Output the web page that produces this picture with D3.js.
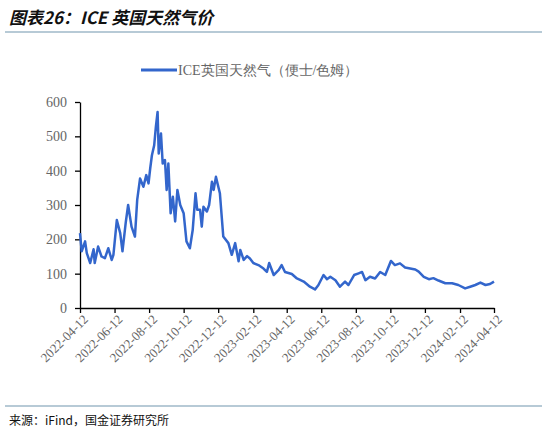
<!DOCTYPE html>
<html><head><meta charset="utf-8">
<script src="https://cdn.jsdelivr.net/npm/d3@7"></script>
<style>body{margin:0;background:#fff}</style>
</head><body>
<svg id="chart" width="542" height="435"></svg>
<script>
// pence/therm
const dates = ["2022-04-12","2022-04-15","2022-04-21","2022-04-24","2022-04-30","2022-05-06","2022-05-08","2022-05-14","2022-05-20","2022-05-26","2022-06-01","2022-06-07","2022-06-10","2022-06-16","2022-06-22","2022-06-26","2022-07-02","2022-07-06","2022-07-12","2022-07-18","2022-07-22","2022-07-27","2022-08-02","2022-08-07","2022-08-11","2022-08-14","2022-08-17","2022-08-21","2022-08-24","2022-08-27","2022-08-29","2022-09-02","2022-09-05","2022-09-09","2022-09-12","2022-09-15","2022-09-19","2022-09-23","2022-09-27","2022-10-01","2022-10-06","2022-10-12","2022-10-17","2022-10-23","2022-10-28","2022-11-02","2022-11-05","2022-11-10","2022-11-13","2022-11-16","2022-11-22","2022-11-26","2022-12-01","2022-12-04","2022-12-08","2022-12-15","2022-12-21","2022-12-30","2023-01-05","2023-01-11","2023-01-17","2023-01-20","2023-01-26","2023-02-01","2023-02-06","2023-02-12","2023-02-21","2023-03-02","2023-03-08","2023-03-12","2023-03-20","2023-03-29","2023-04-03","2023-04-09","2023-04-21","2023-04-30","2023-05-12","2023-05-23","2023-06-01","2023-06-07","2023-06-16","2023-06-22","2023-06-28","2023-07-07","2023-07-15","2023-07-24","2023-07-30","2023-08-09","2023-08-17","2023-08-23","2023-08-29","2023-09-06","2023-09-15","2023-09-24","2023-10-03","2023-10-13","2023-10-20","2023-10-29","2023-11-07","2023-11-16","2023-11-25","2023-12-01","2023-12-10","2023-12-19","2023-12-27","2024-01-05","2024-01-17","2024-01-29","2024-02-09","2024-02-21","2024-03-01","2024-03-10","2024-03-19","2024-03-28","2024-04-05","2024-04-12"]
const prices = [218,165,194,160,131,171,131,179,150,145,174,140,155,256,218,165,252,300,237,208,315,377,353,387,363,407,445,474,528,571,450,508,421,431,344,421,276,324,252,344,300,276,194,174,227,334,286,286,237,295,281,300,368,344,382,334,208,189,155,189,136,169,140,151,144,131,125,115,105,131,96,111,125,105,99,86,77,62,54,67,96,84,91,81,62,77,67,96,101,105,81,91,86,105,96,137,125,130,118,115,112,106,91,84,87,80,72,72,67,57,62,67,74,67,70,77]
const tickDates = ["2022-04-12","2022-06-12","2022-08-12","2022-10-12","2022-12-12","2023-02-12","2023-04-12","2023-06-12","2023-08-12","2023-10-12","2023-12-12","2024-02-12","2024-04-12"]
const yTicks = [0,100,200,300,400,500,600]
const seriesName = "ICE英国天然气（便士/色姆）"

const parse = d3.timeParse("%Y-%m-%d")
const data = dates.map((d, i) => ({date: parse(d), value: prices[i]}))

const svg = d3.select("#chart")
const cjk = "'Noto Sans CJK SC', sans-serif"
const serif = "'Liberation Serif', 'Times New Roman', serif"

// header
svg.append("text").attr("x", 9).attr("y", 24)
    .style("font-family", cjk).style("font-size", "17px").style("font-weight", "bold")
    .style("font-style", "italic").attr("fill", "#111")
    .text("图表26：ICE 英国天然气价")
svg.append("line").attr("x1", 5).attr("x2", 542).attr("y1", 32).attr("y2", 32)
    .attr("stroke", "#9fb8c8").attr("stroke-width", 1.5)

let x = d3.scaleTime().domain([parse("2022-04-12"), parse("2024-04-12")]).range([80, 494])
let y = d3.scaleLinear().domain([0, 600]).range([308, 102])

svg.append("g").attr("transform", "translate(0,308)")
    .call(d3.axisBottom(x).tickValues(tickDates.map(parse)).tickFormat(d3.timeFormat("%Y-%m-%d")).tickSize(5).tickSizeOuter(0))
    .call(g => g.select(".domain").attr("stroke", "#000").attr("stroke-width", 1.3))
    .call(g => g.selectAll(".tick line").attr("stroke", "#000").attr("stroke-width", 1.3))
    .call(g => g.selectAll("text").attr("transform", "rotate(-45)").attr("text-anchor", "end")
        .attr("dx", "-0.2em").attr("dy", "0.5em")
        .style("font-family", serif).style("font-size", "13px").attr("fill", "#666"))

svg.append("g").attr("transform", "translate(80,0)")
    .call(d3.axisLeft(y).tickValues(yTicks).tickSize(5).tickSizeOuter(0))
    .call(g => g.select(".domain").attr("stroke", "#000").attr("stroke-width", 1.3))
    .call(g => g.selectAll(".tick line").attr("stroke", "#000").attr("stroke-width", 1.3))
    .call(g => g.selectAll("text").attr("dx", "-5")
        .style("font-family", serif).style("font-size", "14px").attr("fill", "#666"))

svg.append("path").datum(data)
    .attr("d", d3.line().x(d => x(d.date)).y(d => y(d.value)))
    .attr("fill", "none").attr("stroke", "#3366cc").attr("stroke-width", 2.5)
    .attr("stroke-linejoin", "round")

// legend
svg.append("line").attr("x1", 141).attr("x2", 177).attr("y1", 70).attr("y2", 70)
    .attr("stroke", "#3366cc").attr("stroke-width", 3)
svg.append("text").attr("x", 178).attr("y", 75)
    .style("font-family", serif).style("font-size", "14px").attr("fill", "#666")
    .text(seriesName)

// footer
svg.append("line").attr("x1", 5).attr("x2", 542).attr("y1", 406).attr("y2", 406)
    .attr("stroke", "#9fb8c8").attr("stroke-width", 1.5)
svg.append("text").attr("x", 9).attr("y", 425)
    .style("font-family", cjk).style("font-size", "12px").attr("fill", "#111")
    .text("来源：iFind，国金证券研究所")
</script>
</body></html>
